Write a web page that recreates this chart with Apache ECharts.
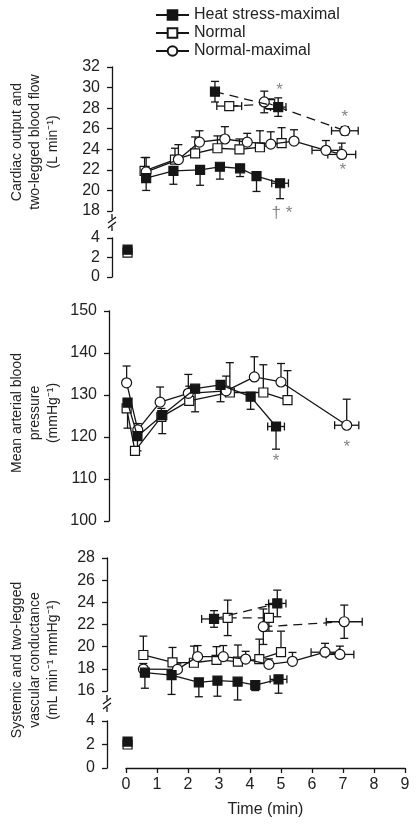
<!DOCTYPE html>
<html><head><meta charset="utf-8">
<script src="https://cdn.jsdelivr.net/npm/echarts@6/dist/echarts.min.js"></script>
<style>html,body{margin:0;padding:0;background:#fff}#c{width:416px;height:827px}</style>
</head><body><div id="c"></div>
<script>
// ---------- DATA ----------
const xTicks = [0, 1, 2, 3, 4, 5, 6, 7, 8, 9];
const seriesNames = ['Heat stress-maximal', 'Normal', 'Normal-maximal'];

// Panel 1: Cardiac output and two-legged blood flow (L min-1)
const coHeatT = [0.65, 1.53, 2.39, 3.03, 3.68, 4.21, 4.97];
const coHeatV = [21.2, 21.9, 22.0, 22.3, 22.15, 21.4, 20.7];
const coHeatErr = [1.2, 1.3, 1.5, 1.2, 0.8, 1.5, 1.5];
const coHeatXErr = [0, 0, 0, 0, 0, 0, 0.27];
const coNormT = [0.6, 1.58, 2.23, 2.95, 3.66, 4.32, 5.02];
const coNormV = [21.9, 23.0, 23.6, 24.1, 24.0, 24.2, 24.6];
const coNormErr = [1.3, 1.1, 1.6, 1.2, 1.0, 1.6, 1.5];
const coNmaxT = [0.65, 1.69, 2.37, 3.19, 3.91, 4.67, 5.42, 6.45, 6.96];
const coNmaxV = [21.8, 23.0, 24.7, 25.0, 24.7, 24.5, 24.8, 23.9, 23.5];
const coNmaxErr = [1.4, 1.45, 1.1, 1.2, 0.85, 1.2, 1.1, 0.95, 1.1];
const coNmaxXErr = [0, 0, 0, 0, 0, 0, 0, 0.45, 0.45];
// two-legged blood flow (dashed)
const coHeatLegT = [2.87, 4.91];
const coHeatLegV = [29.6, 28.1];
const coHeatLegErr = [1.0, 0.9];
const coHeatLegXErr = [0, 0.25];
const coNormLegT = [3.33, 4.65];
const coNormLegV = [28.2, 28.4];
const coNormLegErr = [0.4, 0.5];
const coNormLegXErr = [0.4, 0];
const coNmaxLegT = [4.46, 7.06];
const coNmaxLegV = [28.6, 25.8];
const coNmaxLegErr = [1.05, 0.4];
const coNmaxLegXErr = [0, 0.43];
// rest values
const coRestT = [0.05];
const coRestHeat = [2.8];
const coRestNorm = [2.5];
// significance marks
const coMarks = [[4.95, 29.7, '*'], [7.06, 27.1, '*'], [6.99, 22.0, '*'], [5.03, 17.8, '† *']];

// Panel 2: Mean arterial blood pressure
const mapHeatT = [0.05, 0.37, 1.17, 2.23, 3.05, 4.02, 4.84];
const mapHeatV = [128.2, 120.2, 125.2, 131.5, 132.4, 129.6, 122.5];
const mapHeatErr = [6.1, 3.5, 4.4, 5.5, 4.0, 3.0, 5.4];
const mapHeatXErr = [0, 0, 0, 0, 0, 0, 0.27];
const mapNormT = [0.02, 0.29, 1.14, 2.04, 3.35, 4.43, 5.21];
const mapNormV = [126.8, 116.7, 124.8, 128.6, 130.6, 130.6, 128.8];
const mapNormErr = [2.0, 0.8, 2.0, 3.5, 7.1, 6.6, 7.0];
const mapNmaxT = [0.02, 0.38, 1.1, 2.01, 3.23, 4.14, 5.0, 7.12];
const mapNmaxV = [132.9, 121.7, 128.3, 130.4, 131.0, 134.3, 133.1, 122.8];
const mapNmaxErr = [4.0, 1.5, 3.6, 4.5, 3.5, 4.8, 4.4, 6.2];
const mapNmaxXErr = [0, 0, 0, 0, 0, 0, 0, 0.39];
const mapMarks = [[4.84, 114.1, '*'], [7.12, 117.5, '*']];

// Panel 3: Systemic and two-legged vascular conductance
const vcHeatT = [0.61, 1.47, 2.35, 2.95, 3.6, 4.17, 4.92];
const vcHeatV = [17.65, 17.44, 16.78, 16.93, 16.84, 16.54, 17.05];
const vcHeatErr = [1.4, 1.75, 1.3, 1.4, 1.65, 0.5, 1.25];
const vcHeatXErr = [0, 0, 0, 0, 0, 0, 0.27];
const vcNormT = [0.56, 1.5, 2.19, 2.92, 3.61, 4.3, 5.0];
const vcNormV = [19.25, 18.58, 18.55, 18.8, 18.65, 18.88, 19.5];
const vcNormErr = [1.7, 1.35, 1.5, 1.2, 1.5, 1.8, 1.9];
const vcNmaxT = [0.56, 1.66, 2.31, 3.14, 3.86, 4.61, 5.37, 6.42, 6.9];
const vcNmaxV = [17.98, 17.95, 19.1, 19.1, 18.88, 18.4, 18.68, 19.5, 19.3];
const vcNmaxErr = [0.5, 0.5, 1.0, 1.0, 0.7, 0.5, 0.8, 0.8, 0.75];
const vcNmaxXErr = [0, 0, 0, 0, 0, 0, 0, 0.45, 0.45];
const vcHeatLegT = [2.84, 4.88];
const vcHeatLegV = [22.5, 23.9];
const vcHeatLegErr = [0.75, 1.2];
const vcHeatLegXErr = [0.4, 0.28];
const vcNormLegT = [3.28, 4.61];
const vcNormLegV = [22.6, 22.6];
const vcNormLegErr = [1.6, 1.2];
const vcNmaxLegT = [4.43, 7.04];
const vcNmaxLegV = [21.8, 22.25];
const vcNmaxLegErr = [1.6, 1.5];
const vcNmaxLegXErr = [0, 0.58];
const vcRestT = [0.05];
const vcRestHeat = [2.25];
const vcRestNorm = [2.0];

// ---------- STYLE ----------
const INK = '#151515';
const FONT = '"Liberation Sans", Arial, sans-serif';
const symStyle = {
  'Heat stress-maximal': {symbol: 'rect', size: 9, fill: INK},
  'Normal': {symbol: 'rect', size: 9, fill: '#fff'},
  'Normal-maximal': {symbol: 'circle', size: 10, fill: '#fff'}
};

function lineS(name, g, T, V, dashed, z) {
  const s = symStyle[name];
  return {
    type: 'line', name, xAxisIndex: g, yAxisIndex: g,
    data: T.map((t, i) => [t, V[i]]),
    symbol: s.symbol, symbolSize: s.size, showAllSymbol: true, clip: false,
    itemStyle: {color: s.fill, borderColor: INK, borderWidth: 1.2},
    lineStyle: {color: INK, width: 1.3, type: dashed ? [9, 6] : 'solid'},
    emphasis: {disabled: true}, z: z || 3, animation: false
  };
}

function errS(g, T, V, E, dir, XE) {
  const data = T.map((t, i) => [t, V[i], E ? (E[i] || 0) : 0, XE ? (XE[i] || 0) : 0]);
  return {
    type: 'custom', xAxisIndex: g, yAxisIndex: g, z: 2, silent: true, animation: false,
    clip: false, data,
    renderItem(params, api) {
      const t = api.value(0), v = api.value(1), e = api.value(2), xe = api.value(3);
      const c = api.coord([t, v]);
      const style = {stroke: INK, lineWidth: 1.3, fill: null};
      const ch = [];
      const cap = 4;
      if (e > 0) {
        const lo = dir === 'up' ? v : v - e;
        const hi = dir === 'down' ? v : v + e;
        const pl = api.coord([t, lo]), ph = api.coord([t, hi]);
        ch.push({type: 'line', shape: {x1: c[0], y1: pl[1], x2: c[0], y2: ph[1]}, style});
        if (dir !== 'up') ch.push({type: 'line', shape: {x1: c[0] - cap, y1: pl[1], x2: c[0] + cap, y2: pl[1]}, style});
        if (dir !== 'down') ch.push({type: 'line', shape: {x1: c[0] - cap, y1: ph[1], x2: c[0] + cap, y2: ph[1]}, style});
      }
      if (xe > 0) {
        const pa = api.coord([t - xe, v]), pb = api.coord([t + xe, v]);
        ch.push({type: 'line', shape: {x1: pa[0], y1: c[1], x2: pb[0], y2: c[1]}, style});
        ch.push({type: 'line', shape: {x1: pa[0], y1: c[1] - cap, x2: pa[0], y2: c[1] + cap}, style});
        ch.push({type: 'line', shape: {x1: pb[0], y1: c[1] - cap, x2: pb[0], y2: c[1] + cap}, style});
      }
      return {type: 'group', children: ch};
    }
  };
}

function markS(g, marks) {
  return {
    type: 'scatter', xAxisIndex: g, yAxisIndex: g, symbolSize: 0, clip: false, silent: true,
    data: marks.map(m => ({value: [m[0], m[1]], label: {formatter: m[2]}})),
    label: {show: true, position: 'inside', fontSize: 17, color: '#666', fontFamily: FONT},
    z: 5, animation: false
  };
}

// ---------- LAYOUT ----------
const L = 126, R = 11;
const grids = [
  {left: L, right: R, top: 67, height: 144},   // 0 CO upper
  {left: L, right: R, top: 238, height: 39},   // 1 CO lower
  {left: L, right: R, top: 311, height: 210},  // 2 MAP
  {left: L, right: R, top: 558, height: 133},  // 3 VC upper
  {left: L, right: R, top: 721, height: 47}    // 4 VC lower
];
const yRanges = [[18, 32], [0, 4], [100, 150], [16, 28], [0, 4]];
const yIntervals = [2, 2, 10, 2, 2];
const yOffsets = [14, 14, 17, 19, 19];

const xAxes = grids.map((g, i) => ({
  type: 'value', gridIndex: i, min: xTicks[0], max: xTicks[xTicks.length - 1], interval: 1,
  show: i === 4,
  axisLine: {show: true, onZero: false, lineStyle: {color: INK, width: 1.3}},
  axisTick: {show: true, inside: false, length: 5, lineStyle: {color: INK, width: 1.3}},
  axisLabel: {fontSize: 16, color: '#222', fontFamily: FONT, margin: 9},
  splitLine: {show: false},
  name: i === 4 ? 'Time (min)' : '', nameLocation: 'middle', nameGap: 34,
  nameTextStyle: {fontSize: 16, color: '#222', fontFamily: FONT}
}));
const yAxes = grids.map((g, i) => ({
  type: 'value', gridIndex: i, min: yRanges[i][0], max: yRanges[i][1], interval: yIntervals[i],
  offset: yOffsets[i],
  axisLine: {show: true, onZero: false, lineStyle: {color: INK, width: 1.3}},
  axisTick: {show: true, inside: false, length: 5, lineStyle: {color: INK, width: 1.3}},
  axisLabel: {fontSize: 16, color: '#222', fontFamily: FONT, margin: 12},
  splitLine: {show: false}
}));

const series = [
  // Panel 1
  errS(0, coNormT, coNormV, coNormErr, 'up'),
  errS(0, coNmaxT, coNmaxV, coNmaxErr, 'up', coNmaxXErr),
  errS(0, coHeatT, coHeatV, coHeatErr, 'down', coHeatXErr),
  errS(0, coHeatLegT, coHeatLegV, coHeatLegErr, 'both', coHeatLegXErr),
  errS(0, coNormLegT, coNormLegV, coNormLegErr, 'both', coNormLegXErr),
  errS(0, coNmaxLegT, coNmaxLegV, coNmaxLegErr, 'both', coNmaxLegXErr),
  lineS('Heat stress-maximal', 0, coHeatT, coHeatV, false, 5),
  lineS('Normal', 0, coNormT, coNormV, false, 3),
  lineS('Normal-maximal', 0, coNmaxT, coNmaxV, false, 4),
  lineS('Heat stress-maximal', 0, coHeatLegT, coHeatLegV, true, 5),
  lineS('Normal', 0, coNormLegT, coNormLegV, true, 3),
  lineS('Normal-maximal', 0, coNmaxLegT, coNmaxLegV, true, 4),
  lineS('Normal', 1, coRestT, coRestNorm, false, 3),
  lineS('Heat stress-maximal', 1, coRestT, coRestHeat, false, 5),
  markS(0, coMarks),
  // Panel 2
  errS(2, mapNormT, mapNormV, mapNormErr, 'up'),
  errS(2, mapNmaxT, mapNmaxV, mapNmaxErr, 'up', mapNmaxXErr),
  errS(2, mapHeatT, mapHeatV, mapHeatErr, 'down', mapHeatXErr),
  lineS('Heat stress-maximal', 2, mapHeatT, mapHeatV, false, 5),
  lineS('Normal', 2, mapNormT, mapNormV, false, 3),
  lineS('Normal-maximal', 2, mapNmaxT, mapNmaxV, false, 4),
  markS(2, mapMarks),
  // Panel 3
  errS(3, vcNormT, vcNormV, vcNormErr, 'up'),
  errS(3, vcNmaxT, vcNmaxV, vcNmaxErr, 'up', vcNmaxXErr),
  errS(3, vcHeatT, vcHeatV, vcHeatErr, 'down', vcHeatXErr),
  errS(3, vcHeatLegT, vcHeatLegV, vcHeatLegErr, 'both', vcHeatLegXErr),
  errS(3, vcNormLegT, vcNormLegV, vcNormLegErr, 'both'),
  errS(3, vcNmaxLegT, vcNmaxLegV, vcNmaxLegErr, 'both', vcNmaxLegXErr),
  lineS('Heat stress-maximal', 3, vcHeatT, vcHeatV, false, 5),
  lineS('Normal', 3, vcNormT, vcNormV, false, 3),
  lineS('Normal-maximal', 3, vcNmaxT, vcNmaxV, false, 4),
  lineS('Heat stress-maximal', 3, vcHeatLegT, vcHeatLegV, true, 5),
  lineS('Normal', 3, vcNormLegT, vcNormLegV, true, 3),
  lineS('Normal-maximal', 3, vcNmaxLegT, vcNmaxLegV, true, 4),
  lineS('Normal', 4, vcRestT, vcRestNorm, false, 3),
  lineS('Heat stress-maximal', 4, vcRestT, vcRestHeat, false, 5)
];

function yTitle(text, x, y) {
  return {
    type: 'text', x, y, rotation: Math.PI / 2, silent: true,
    style: {text, font: '14px ' + FONT, fill: '#222', align: 'center', verticalAlign: 'middle', lineHeight: 18}
  };
}
function brk(x, y) {
  const st = {stroke: INK, lineWidth: 1.3};
  return [
    {type: 'line', shape: {x1: x, y1: y - 8, x2: x, y2: y - 3}, style: st},
    {type: 'line', shape: {x1: x - 4, y1: y + 1, x2: x + 4, y2: y - 5}, style: st},
    {type: 'line', shape: {x1: x - 4, y1: y + 6, x2: x + 4, y2: y}, style: st},
    {type: 'line', shape: {x1: x, y1: y + 4, x2: x, y2: y + 9}, style: st}
  ];
}

const chart = echarts.init(document.getElementById('c'), null, {renderer: 'canvas'});
chart.setOption({
  backgroundColor: '#fff',
  animation: false,
  textStyle: {fontFamily: FONT},
  legend: {
    data: seriesNames, orient: 'vertical', left: 150, top: 2,
    itemWidth: 33, itemHeight: 12, itemGap: 2, selectedMode: false,
    textStyle: {fontSize: 16, color: '#222', fontFamily: FONT}
  },
  grid: grids,
  xAxis: xAxes,
  yAxis: yAxes,
  series,
  graphic: [
    yTitle('Cardiac output and\ntwo-legged blood flow\n(L min⁻¹)', 35, 142),
    yTitle('Mean arterial blood\npressure\n(mmHg⁻¹)', 35, 413),
    yTitle('Systemic and two-legged\nvascular conductance\n(mL min⁻¹ mmHg⁻¹)', 35, 660),
    ...brk(112, 222),
    ...brk(107, 703)
  ]
});
</script>
</body></html>
